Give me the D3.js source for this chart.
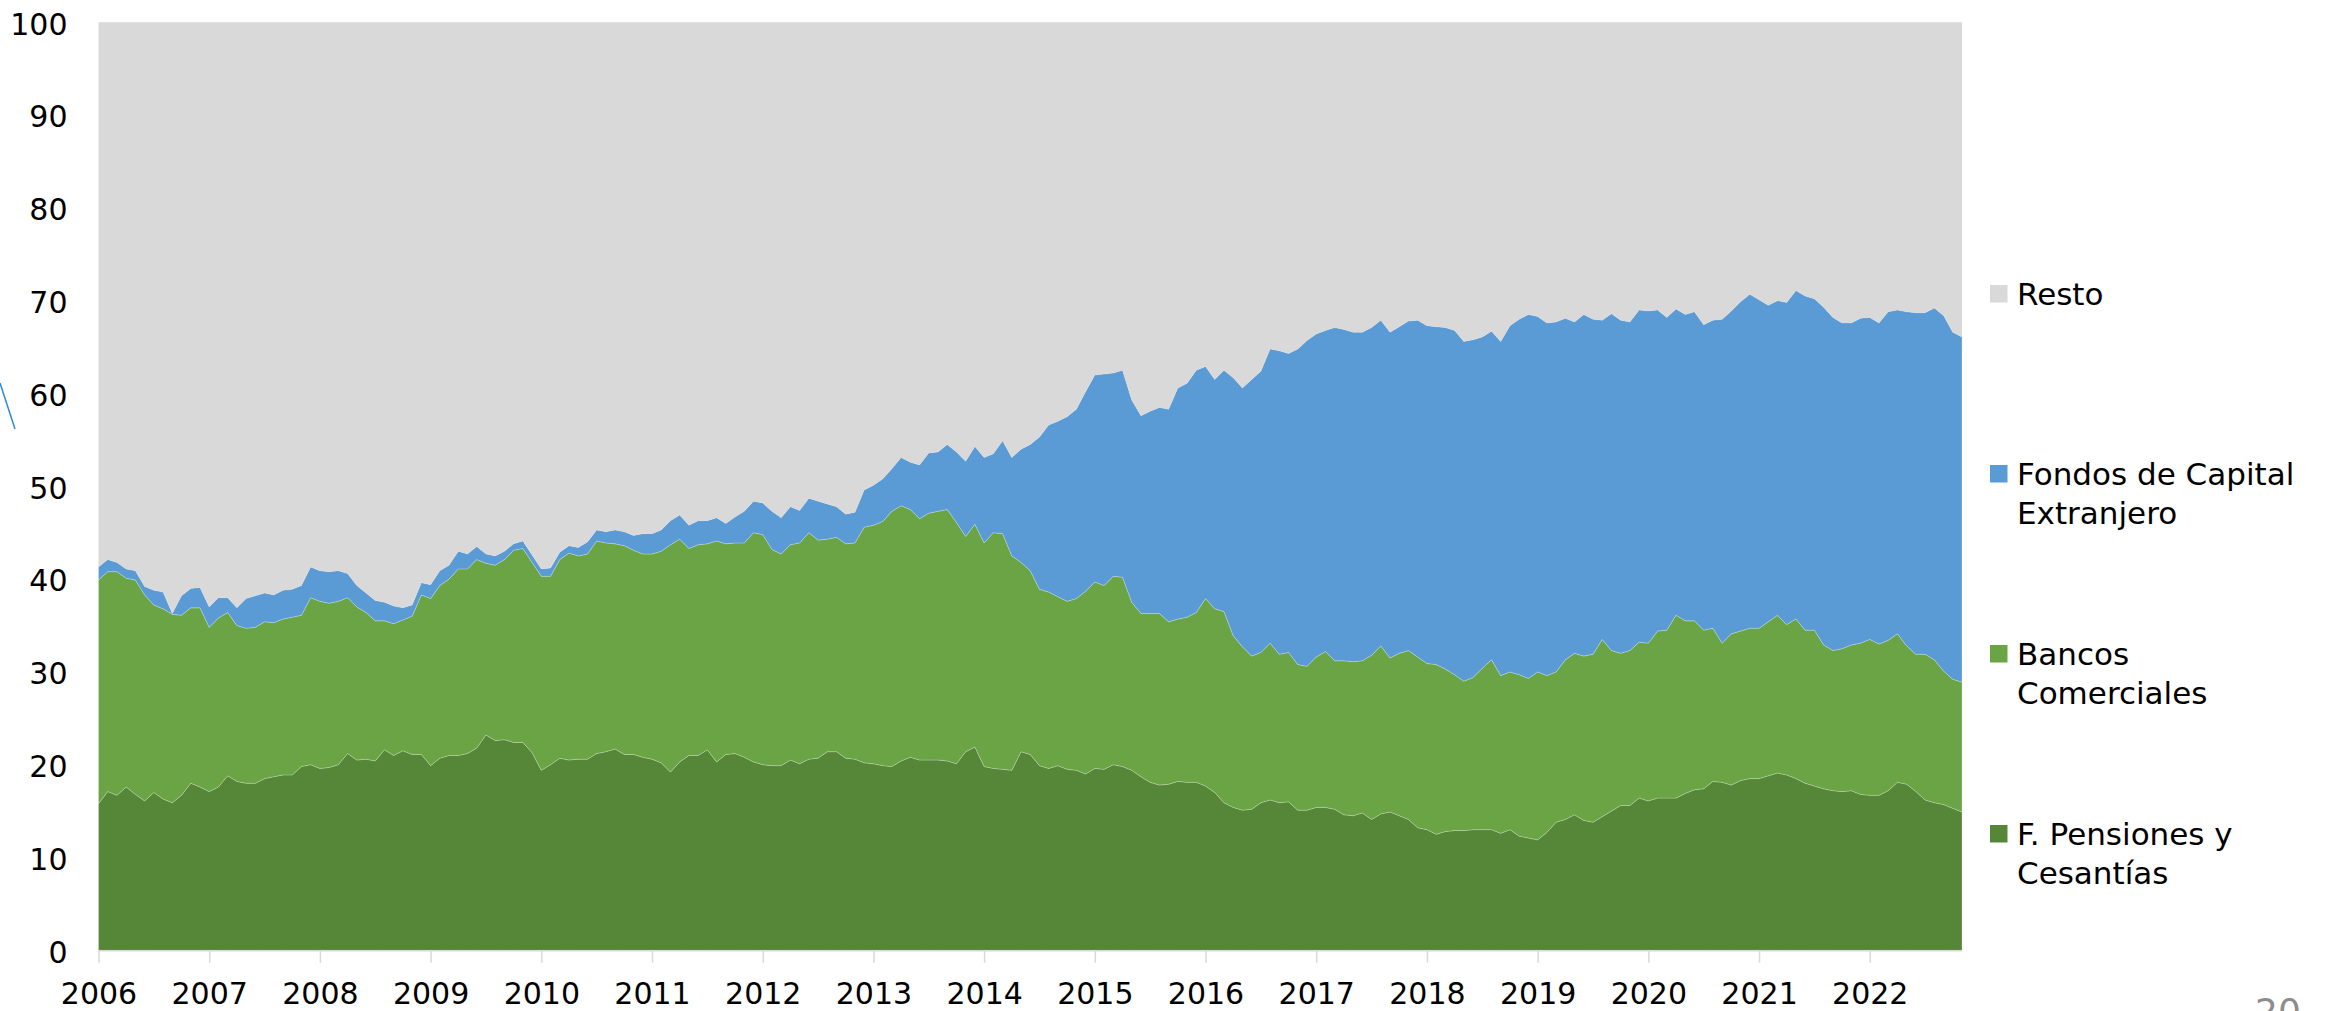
<!DOCTYPE html>
<html><head><meta charset="utf-8">
<script src="https://cdn.jsdelivr.net/npm/d3@7"></script>
<style>
html,body{margin:0;padding:0;background:#fff;overflow:hidden}
svg{display:block}
text{font-family:"DejaVu Sans",Verdana,sans-serif}
</style></head><body>
<svg id="chart" width="2331" height="1011"></svg>
<script>
// ---- data ----
const yearLabels = ["2006","2007","2008","2009","2010","2011","2012","2013","2014","2015","2016","2017","2018","2019","2020","2021","2022"];
const yTickValues = [0,10,20,30,40,50,60,70,80,90,100];
const seriesKeys = ["pensiones","bancos","fondos","resto"];
const seriesLabels = {
  resto: ["Resto"],
  fondos: ["Fondos de Capital","Extranjero"],
  bancos: ["Bancos","Comerciales"],
  pensiones: ["F. Pensiones y","Cesantías"]
};
const seriesColors = {pensiones:"#568739", bancos:"#6aa444", fondos:"#5b9bd5", resto:"#d9d9d9"};

// monthly observations, Jan 2006 .. Nov 2022 (% share)
const pensiones = [
15.8,17.1,16.7,17.6,16.8,16.1,17.0,16.3,15.9,16.7,
18.0,17.6,17.1,17.6,18.8,18.2,18.0,18.0,18.5,18.7,
18.9,18.9,19.8,20.0,19.6,19.7,20.0,21.2,20.5,20.6,
20.4,21.6,21.0,21.5,21.1,21.1,19.9,20.7,21.0,21.0,
21.2,21.8,23.2,22.6,22.7,22.4,22.4,21.3,19.4,20.0,
20.7,20.5,20.6,20.6,21.2,21.4,21.7,21.1,21.1,20.8,
20.6,20.2,19.2,20.3,21.0,21.0,21.6,20.3,21.1,21.2,
20.8,20.3,20.0,19.9,19.9,20.5,20.1,20.6,20.7,21.4,
21.4,20.7,20.6,20.2,20.1,19.9,19.8,20.4,20.8,20.5,
20.5,20.5,20.4,20.1,21.4,21.9,19.8,19.6,19.5,19.4,
21.4,21.1,19.9,19.6,19.9,19.5,19.4,19.0,19.6,19.5,
20.0,19.8,19.4,18.7,18.1,17.8,17.9,18.2,18.1,18.1,
17.7,17.0,15.9,15.4,15.1,15.2,15.9,16.2,15.9,16.0,
15.1,15.1,15.4,15.4,15.2,14.6,14.5,14.8,14.1,14.7,
14.9,14.5,14.1,13.2,13.0,12.5,12.8,12.9,12.9,13.0,
13.0,13.0,12.6,13.0,12.3,12.1,11.9,12.7,13.8,14.1,
14.6,14.0,13.8,14.4,15.0,15.6,15.6,16.4,16.1,16.4,
16.4,16.4,16.9,17.3,17.4,18.2,18.1,17.8,18.3,18.5,
18.5,18.8,19.1,18.9,18.5,18.0,17.7,17.4,17.2,17.1,
17.2,16.8,16.7,16.7,17.2,18.1,17.9,17.1,16.2,15.9,
15.7,15.3,14.9];
const bancos = [
24.1,23.7,24.1,22.5,23.1,22.2,20.2,20.5,20.3,19.4,
18.9,19.3,17.7,18.2,17.6,16.8,16.7,16.8,16.9,16.6,
16.8,17.0,16.3,18.0,18.0,17.7,17.6,16.8,16.5,15.8,
15.1,13.9,14.2,14.1,14.9,17.2,18.0,18.6,19.0,20.1,
19.9,20.3,18.5,18.9,19.4,20.7,20.9,20.5,20.9,20.3,
21.4,22.3,21.9,22.1,22.9,22.5,22.1,22.5,22.0,21.9,
22.1,22.8,24.5,24.0,22.3,22.7,22.2,23.8,22.7,22.7,
23.1,24.7,24.8,23.3,22.8,23.2,23.8,24.4,23.5,22.9,
23.1,23.1,23.3,25.4,25.7,26.3,27.5,27.5,26.7,26.0,
26.6,26.8,27.1,26.0,23.2,24.0,24.1,25.4,25.4,23.1,
20.4,19.8,19.0,19.0,18.2,18.1,18.5,19.7,20.1,19.8,
20.3,20.4,18.1,17.6,18.2,18.5,17.5,17.5,17.8,18.3,
20.2,19.8,20.6,18.5,17.6,16.5,16.2,16.9,16.0,16.1,
15.7,15.5,16.2,16.8,16.0,16.6,16.6,16.4,17.7,18.1,
16.6,17.5,18.2,18.4,17.9,18.3,17.5,16.8,16.1,16.4,
17.4,18.3,17.0,17.0,17.4,17.2,18.1,16.9,16.2,17.2,
17.4,17.7,18.1,19.1,17.3,16.4,16.7,16.8,17.0,18.0,
18.1,19.7,18.6,18.2,17.1,16.5,15.0,16.3,16.1,16.2,
16.2,16.6,17.0,16.2,17.2,16.5,16.8,15.5,15.1,15.4,
15.7,16.3,16.8,16.3,16.2,16.0,14.9,14.8,15.7,15.4,
14.4,13.9,14.0];
const fondos = [
1.4,1.3,1.0,1.0,1.0,0.9,1.6,1.8,0.1,2.1,
2.1,2.2,2.2,2.2,1.6,1.9,3.2,3.4,3.1,3.0,
3.1,3.0,3.2,3.3,3.3,3.4,3.3,2.6,2.3,2.1,
2.2,2.0,1.9,1.3,1.2,1.3,1.5,1.6,1.5,1.9,
1.6,1.4,1.0,1.0,0.9,0.7,0.8,0.8,0.8,0.9,
0.8,0.8,0.9,1.3,1.2,1.2,1.5,1.5,1.6,2.2,
2.2,2.3,2.6,2.6,2.5,2.6,2.5,2.5,2.2,2.8,
3.4,3.4,3.4,4.1,3.9,4.1,3.5,3.7,4.2,3.8,
3.3,3.2,3.3,4.0,4.3,4.6,4.6,5.2,5.1,5.8,
6.5,6.4,7.0,7.6,8.1,8.4,9.2,8.5,10.0,10.6,
12.2,13.6,16.4,18.0,18.9,19.9,20.4,21.5,22.3,22.8,
21.9,22.3,21.8,21.3,21.8,22.2,22.9,24.9,25.2,26.1,
25.0,24.7,26.0,27.8,27.9,29.8,30.3,31.7,32.7,32.2,
34.0,35.1,34.8,34.6,35.9,35.7,35.5,35.4,35.3,35.1,
35.1,35.2,35.5,36.3,36.4,36.4,36.8,37.1,36.6,36.4,
35.7,35.4,36.0,37.3,38.3,39.2,38.3,38.0,37.7,36.8,
35.7,36.8,36.1,34.4,36.3,35.9,35.4,35.8,35.8,34.6,
33.7,33.0,33.0,33.3,32.9,33.2,34.9,34.8,35.5,36.0,
35.4,34.1,33.9,34.7,35.4,36.0,35.7,36.4,35.9,35.1,
34.7,35.0,34.7,34.6,35.4,34.9,36.0,36.8,36.8,37.9,
38.3,37.4,37.2];
const resto = [
58.7,57.9,58.2,58.9,59.1,60.8,61.2,61.4,63.7,61.8,
61.0,60.9,63.0,62.0,62.0,63.1,62.1,61.8,61.5,61.7,
61.2,61.1,60.7,58.7,59.1,59.2,59.1,59.4,60.7,61.5,
62.3,62.5,62.9,63.1,62.8,60.4,60.6,59.1,58.5,57.0,
57.3,56.5,57.3,57.5,57.0,56.2,55.9,57.4,58.9,58.8,
57.1,56.4,56.6,56.0,54.7,54.9,54.7,54.9,55.3,55.1,
55.1,54.7,53.7,53.1,54.2,53.7,53.7,53.4,54.0,53.3,
52.7,51.6,51.8,52.7,53.4,52.2,52.6,51.3,51.6,51.9,
52.2,53.0,52.8,50.4,49.9,49.2,48.1,46.9,47.4,47.7,
46.4,46.3,45.5,46.3,47.3,45.7,46.9,46.5,45.1,46.9,
46.0,45.5,44.7,43.4,43.0,42.5,41.7,39.8,38.0,37.9,
37.8,37.5,40.7,42.4,41.9,41.5,41.7,39.4,38.9,37.5,
37.1,38.5,37.5,38.3,39.4,38.5,37.6,35.2,35.4,35.7,
35.2,34.3,33.6,33.2,32.9,33.1,33.4,33.4,32.9,32.1,
33.4,32.8,32.2,32.1,32.7,32.8,32.9,33.2,34.4,34.2,
33.9,33.3,34.4,32.7,32.0,31.5,31.7,32.4,32.3,31.9,
32.3,31.5,32.0,32.1,31.4,32.1,32.3,31.0,31.1,31.0,
31.8,30.9,31.5,31.2,32.6,32.1,32.0,31.1,30.1,29.3,
29.9,30.5,30.0,30.2,28.9,29.5,29.8,30.7,31.8,32.4,
32.4,31.9,31.8,32.4,31.2,31.0,31.2,31.3,31.3,30.8,
31.6,33.4,33.9];

// month categories Jan 2006 .. Nov 2022
const months = d3.timeMonth.range(new Date(2006,0,1), new Date(2022,11,1));
const table = months.map((m,i)=>({date:m, pensiones:pensiones[i], bancos:bancos[i], fondos:fondos[i], resto:resto[i]}));

// ---- layout ----
const svg = d3.select("#chart");
const plot = {left:98.5, right:1962, top:22.3, bottom:950.3};

const x = d3.scalePoint().domain(months).range([plot.left, plot.right]);
const y = d3.scaleLinear().domain([0,100]).range([plot.bottom, plot.top]);

const stacked = d3.stack().keys(seriesKeys)(table);
const area = d3.area()
  .x(d=>x(d.data.date))
  .y0(d=>y(d[0]))
  .y1(d=>y(d[1]));

svg.append("g").selectAll("path").data(stacked).join("path")
  .attr("d", area)
  .attr("fill", d=>seriesColors[d.key])
  .attr("stroke", d=> d.key==="resto" ? "none" : "rgba(255,255,255,0.28)")
  .attr("stroke-width", 0.8);

// x axis
const yearTicks = months.filter(m=>m.getMonth()===0);
const xAxis = d3.axisBottom(x)
  .tickValues(yearTicks)
  .tickFormat((d,i)=>yearLabels[i])
  .tickSize(12).tickSizeOuter(0).tickPadding(20);
const gx = svg.append("g").attr("transform",`translate(0,${plot.bottom+0.5})`).call(xAxis);
gx.select(".domain").attr("stroke","#d9d9d9").attr("stroke-width",1.5)
  .attr("d", `M${plot.left-0.5},0H${plot.right}`);
gx.selectAll(".tick line").attr("stroke","#d9d9d9").attr("stroke-width",1.5);
gx.selectAll(".tick text").attr("font-size",30).attr("fill","#000")
  .attr("font-family",'"DejaVu Sans",Verdana,sans-serif');

// y axis
const yAxis = d3.axisLeft(y).tickValues(yTickValues).tickSize(0).tickPadding(31)
  .tickFormat(d3.format("d"));
const gy = svg.append("g").attr("transform",`translate(${plot.left},0)`).call(yAxis);
gy.select(".domain").remove();
gy.selectAll(".tick text").attr("font-size",30).attr("fill","#000").attr("dy","0.39em")
  .attr("font-family",'"DejaVu Sans",Verdana,sans-serif');

// legend
const legendOrder = ["resto","fondos","bancos","pensiones"];
const lg = svg.append("g").attr("transform","translate(1990,305)");
const items = lg.selectAll("g").data(legendOrder).join("g")
  .attr("transform",(d,i)=>`translate(0,${i*180})`);
items.append("rect").attr("x",0).attr("y",-20).attr("width",17.5).attr("height",17.5)
  .attr("fill",d=>seriesColors[d]);
items.append("text").attr("x",27).attr("y",0).attr("font-size",31).attr("fill","#000")
  .selectAll("tspan").data(d=>seriesLabels[d]).join("tspan")
  .attr("x",27).attr("dy",(d,i)=>i===0?0:38.6).text(d=>d);

// decorative slide remnants
svg.append("line").attr("x1",0).attr("y1",383).attr("x2",15).attr("y2",429)
  .attr("stroke","#2e8ad8").attr("stroke-width",1.5);
svg.append("text").attr("x",2255).attr("y",1024).attr("font-size",36).attr("fill","#8c8c8c").text("20");
</script>
</body></html>
